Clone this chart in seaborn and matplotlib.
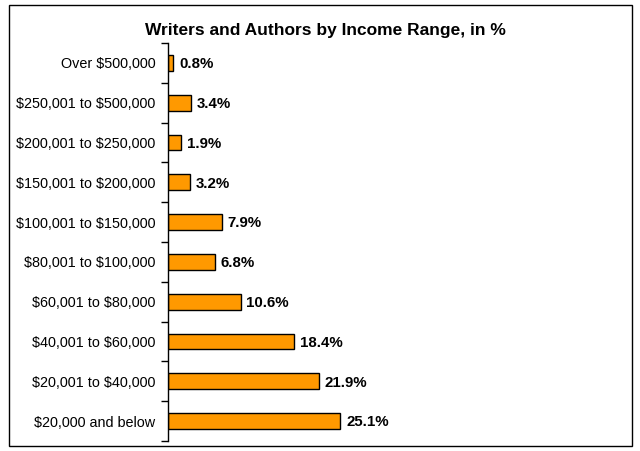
import matplotlib
matplotlib.use("Agg")
import matplotlib.pyplot as plt
import seaborn as sns
import pandas as pd
import numpy as np
from matplotlib.patches import Rectangle

categories = [
    "Over $500,000",
    "$250,001 to $500,000",
    "$200,001 to $250,000",
    "$150,001 to $200,000",
    "$100,001 to $150,000",
    "$80,001 to $100,000",
    "$60,001 to $80,000",
    "$40,001 to $60,000",
    "$20,001 to $40,000",
    "$20,000 and below",
]
percent = [0.8, 3.4, 1.9, 3.2, 7.9, 6.8, 10.6, 18.4, 21.9, 25.1]

sns.set_theme(style="white")
plt.rcParams["font.family"] = ["Liberation Sans", "DejaVu Sans"]
plt.rcParams["text.parse_math"] = False

df = pd.DataFrame({"range": categories, "pct": percent})

fig = plt.figure(figsize=(6.4, 4.51), dpi=100)
ax = fig.add_axes([168 / 640, 1 - 441 / 451, (625 - 168) / 640, (441 - 43) / 451])

sns.barplot(data=df, y="range", x="pct", orient="h", color="#FF9900",
            edgecolor="black", linewidth=1.0, width=0.4, saturation=1, ax=ax)

ax.set_xlim(0, 66.5)
ax.set_ylim(len(categories) - 0.5, -0.5)
ax.set_xlabel("")
ax.set_ylabel("")
ax.set_xticks([])
for s in ["top", "right", "bottom"]:
    ax.spines[s].set_visible(False)
ax.spines["left"].set_color("black")
ax.spines["left"].set_linewidth(1.0)

ax.set_yticks(range(len(categories)))
ax.set_yticklabels(categories, fontsize=10.4, color="black")
ax.tick_params(axis="y", which="major", length=0, pad=9)
ax.set_yticks(np.arange(-0.5, len(categories), 1.0), minor=True)
ax.tick_params(axis="y", which="minor", length=5, width=1, color="black", left=True)

for i, v in enumerate(percent):
    ax.annotate(f"{v}%", xy=(v, i), xytext=(4, -1), textcoords="offset points",
                ha="left", va="center", fontsize=10.8, fontweight="bold", color="black")

fig.text(0.509, 1 - 31 / 451, "Writers and Authors by Income Range, in %",
         ha="center", va="center", fontsize=12.5, fontweight="bold", color="black")

fig.patches.append(Rectangle((9 / 640, 5 / 451), 623 / 640, 441 / 451,
                             transform=fig.transFigure, fill=False,
                             edgecolor="black", linewidth=1.0))

fig.savefig("out.png", dpi=100)
